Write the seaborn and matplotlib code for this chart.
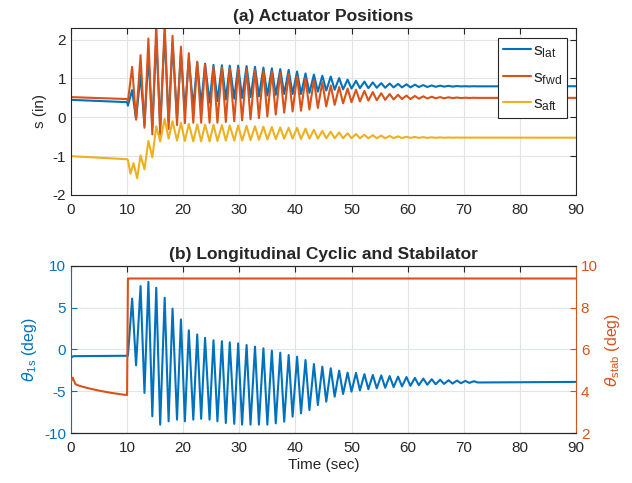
import pandas as pd
import seaborn as sns
import matplotlib.pyplot as plt

blue = "#0072BD"
orange = "#D95319"
yellow = "#EDB120"

# times of the successive peaks/troughs after the input at t=10 s
osc_t = [10.15, 10.9, 11.6, 12.4, 13.1, 13.8, 14.5, 15.2, 15.9, 16.7,
         17.4, 18.1, 18.9, 19.6, 20.3, 21.0, 21.8, 22.5, 23.2, 23.9,
         24.7, 25.4, 26.1, 26.9, 27.6, 28.3, 29.1, 29.8, 30.5, 31.3,
         32.0, 32.8, 33.5, 34.3, 35.0, 35.8, 36.5, 37.3, 38.0, 38.8,
         39.5, 40.3, 41.0, 41.8, 42.5, 43.3, 44.0, 44.8, 45.5, 46.3,
         47.0, 47.8, 48.5, 49.3, 50.0, 50.8, 51.5, 52.3, 53.0, 53.8,
         54.5, 55.3, 56.0, 56.8, 57.5, 58.3, 59.0, 59.8, 60.5, 61.3,
         62.0, 62.8, 63.5, 64.3, 65.0, 65.8, 66.5, 67.3, 68.0, 68.8,
         69.5, 70.3, 71.0, 71.8, 72.5]

# (a) actuator positions, in
lat_pre_t = [0, 10.0]
lat_pre_v = [0.45, 0.39]
lat_osc = [0.3, 0.7, -0.05, 1.1, -0.2, 1.6, -0.25, 2.05, -0.2, 2.15,
           -0.1, 1.9, 0.0, 1.65, 0.15, 1.5, 0.25, 1.42, 0.32, 1.38,
           0.38, 1.35, 0.42, 1.34, 0.46, 1.33, 0.48, 1.33, 0.5, 1.32,
           0.52, 1.3, 0.54, 1.28, 0.56, 1.26, 0.58, 1.24, 0.6, 1.22,
           0.6, 1.18, 0.6, 1.13, 0.63, 1.1, 0.66, 1.07, 0.69, 1.05,
           0.71, 1.01, 0.72, 0.97, 0.74, 0.94, 0.75, 0.92, 0.75, 0.9,
           0.76, 0.88, 0.76, 0.87, 0.77, 0.86, 0.77, 0.85, 0.77, 0.84,
           0.78, 0.83, 0.78, 0.82, 0.785, 0.815, 0.79, 0.81, 0.79, 0.805,
           0.795, 0.8, 0.795, 0.8, 0.797]
lat_end = 0.8

fwd_pre_t = [0, 10.0]
fwd_pre_v = [0.52, 0.47]
fwd_osc = [0.42, 1.3, -0.06, 1.6, -0.27, 2.03, -0.44, 2.4, -0.45, 2.4,
           -0.3, 2.1, -0.2, 1.82, -0.15, 1.65, -0.14, 1.43, -0.14, 1.35,
           -0.14, 1.3, -0.14, 1.28, -0.12, 1.26, -0.1, 1.25, -0.08, 1.24,
           -0.05, 1.22, -0.02, 1.2, 0.02, 1.18, 0.07, 1.15, 0.12, 1.12,
           0.15, 1.06, 0.17, 1.0, 0.2, 0.96, 0.24, 0.9, 0.28, 0.82,
           0.32, 0.78, 0.36, 0.74, 0.39, 0.71, 0.41, 0.68, 0.43, 0.65,
           0.44, 0.62, 0.45, 0.6, 0.46, 0.58, 0.47, 0.56, 0.47, 0.55,
           0.48, 0.54, 0.485, 0.53, 0.49, 0.52, 0.49, 0.515, 0.495, 0.51,
           0.495, 0.505, 0.498, 0.503, 0.5]
fwd_end = 0.5

aft_pre_t = [0, 10.0, 10.15, 10.6, 11.15, 11.8]
aft_pre_v = [-1.0, -1.08, -1.1, -1.45, -1.18, -1.57]
aft_osc = [-0.98, -1.34, -0.61, -1.03, -0.23, -0.62, -0.04,
           -0.55, -0.1, -0.6, -0.14, -0.61, -0.17, -0.62, -0.18, -0.62, -0.19,
           -0.62, -0.19, -0.61, -0.2, -0.6, -0.21, -0.6, -0.21, -0.6, -0.22,
           -0.59, -0.23, -0.58, -0.24, -0.57, -0.25, -0.56, -0.26, -0.55, -0.27,
           -0.55, -0.27, -0.56, -0.29, -0.55, -0.32, -0.55, -0.35, -0.54, -0.37,
           -0.54, -0.39, -0.54, -0.41, -0.54, -0.43, -0.54, -0.45, -0.54, -0.46,
           -0.54, -0.47, -0.54, -0.48, -0.535, -0.49, -0.535, -0.5, -0.53, -0.505,
           -0.53, -0.51, -0.53, -0.515, -0.528, -0.518, -0.526, -0.52, -0.525, -0.521,
           -0.524, -0.522, -0.523, -0.522, -0.523]
aft_end = -0.525

# (b) longitudinal cyclic (deg) and stabilator (deg)
th_pre_t = [0, 0.4, 10.0]
th_pre_v = [-1.0, -0.8, -0.75]
th_osc = [-0.75, 6.1, -1.9, 7.6, -5.2, 8.1, -8.0, 7.4, -9.0, 6.2,
          -8.6, 4.9, -8.4, 3.6, -8.6, 2.3, -8.4, 1.8, -8.3, 1.4,
          -8.4, 1.1, -8.6, 1.0, -8.8, 0.86, -8.9, 0.74, -9.0, 0.54,
          -9.0, 0.34, -9.0, 0.14, -9.0, -0.14, -8.84, -0.38, -8.64, -0.66,
          -8.04, -0.86, -7.65, -1.26, -7.25, -1.74, -6.65, -2.05, -6.25, -2.25,
          -5.65, -2.53, -5.33, -2.77, -5.05, -2.8, -4.9, -2.95, -4.75, -3.05,
          -4.65, -3.1, -4.58, -3.18, -4.5, -3.25, -4.42, -3.3, -4.35, -3.4,
          -4.28, -3.48, -4.22, -3.56, -4.16, -3.62, -4.12, -3.68, -4.08, -3.72,
          -4.04, -3.76, -4.0, -3.8, -3.95]
th_end = -3.88

stab_t = [0, 0.3, 0.8, 1.5, 3, 5, 7, 9, 10.0, 10.15, 90]
stab_v = [4.46, 4.65, 4.34, 4.26, 4.15, 4.03, 3.93, 3.85, 3.82, 9.4, 9.4]

t_lat = lat_pre_t + osc_t + [90]
s_lat = lat_pre_v + lat_osc + [lat_end]
t_fwd = fwd_pre_t + osc_t + [90]
s_fwd = fwd_pre_v + fwd_osc + [fwd_end]
t_aft = aft_pre_t + osc_t[3:] + [90]
s_aft = aft_pre_v + aft_osc + [aft_end]
t_th = th_pre_t + osc_t + [90]
v_th = th_pre_v + th_osc + [th_end]

sns.set_style("white")
plt.rcParams["font.family"] = ["Liberation Sans", "DejaVu Sans"]
plt.rcParams["font.size"] = 11
plt.rcParams["mathtext.fontset"] = "dejavusans"
plt.rcParams["axes.unicode_minus"] = False

fig = plt.figure(figsize=(6.32, 4.83), dpi=100)
ax1 = fig.add_axes([0.1123, 0.5963, 0.799, 0.3458])
ax2 = fig.add_axes([0.1123, 0.1035, 0.799, 0.3458])
ax3 = ax2.twinx()

lw = 1.5
sns.lineplot(x=t_lat, y=s_lat, color=blue, lw=lw, sort=False, estimator=None,
             label=r"$\mathregular{s_{lat}}$", ax=ax1)
sns.lineplot(x=t_fwd, y=s_fwd, color=orange, lw=lw, sort=False, estimator=None,
             label=r"$\mathregular{s_{fwd}}$", ax=ax1)
sns.lineplot(x=t_aft, y=s_aft, color=yellow, lw=lw, sort=False, estimator=None,
             label=r"$\mathregular{s_{aft}}$", ax=ax1)

ax1.set_xlim(0, 90)
ax1.set_ylim(-2, 2.3)
ax1.set_xticks(range(0, 91, 10))
ax1.set_yticks([-2, -1, 0, 1, 2])
ax1.grid(True, color="#e3e3e3", lw=0.8)
ax1.set_axisbelow(True)
ax1.tick_params(direction="in", length=4, top=True, right=True, labelsize=11,
                colors="#262626")
ax1.tick_params(axis="x", pad=6)
for sp in ax1.spines.values():
    sp.set_color("#262626")
    sp.set_linewidth(0.8)
ax1.set_xlabel("")
ax1.set_ylabel("s (in)", fontsize=11, labelpad=4)
ax1.set_title("(a) Actuator Positions", fontsize=12.5, fontweight="bold", pad=5)
leg = ax1.legend(loc="upper right", bbox_to_anchor=(0.99, 0.96), fontsize=12.5,
                 frameon=True, fancybox=False, framealpha=1, edgecolor="#262626",
                 handlelength=1.6, handletextpad=0.15, labelspacing=0.55,
                 borderpad=0.3, borderaxespad=0.2)
leg.get_frame().set_linewidth(0.8)

sns.lineplot(x=t_th, y=v_th, color=blue, lw=lw, sort=False, estimator=None, ax=ax2)
sns.lineplot(x=stab_t, y=stab_v, color=orange, lw=lw, sort=False, estimator=None, ax=ax3)

ax2.set_xlim(0, 90)
ax2.set_ylim(-10, 10)
ax3.set_ylim(2, 10)
ax2.set_xticks(range(0, 91, 10))
ax2.set_yticks([-10, -5, 0, 5, 10])
ax3.set_yticks([2, 4, 6, 8, 10])
ax2.xaxis.grid(True, color="#e3e3e3", lw=0.8)
ax2.yaxis.grid(True, color="#dbe7f3", lw=0.8)
ax2.set_axisbelow(True)
ax2.tick_params(axis="x", direction="in", length=4, top=True, labelsize=11,
                colors="#262626", pad=6)
ax2.tick_params(axis="y", direction="in", length=4, labelsize=11, colors=blue)
ax3.tick_params(axis="y", direction="in", length=4, labelsize=11, colors=orange)
ax2.spines["right"].set_visible(False)
ax3.spines["left"].set_visible(False)
ax2.spines["left"].set_color(blue)
ax3.spines["right"].set_color(orange)
for sp in ["top", "bottom"]:
    ax2.spines[sp].set_color("#262626")
    ax3.spines[sp].set_color("#262626")
for ax in (ax2, ax3):
    for sp in ax.spines.values():
        sp.set_linewidth(0.8)
ax2.set_xlabel("Time (sec)", fontsize=11, color="#262626", labelpad=2)
ax2.set_ylabel(r"$\theta_{\mathregular{1s}}$ (deg)", fontsize=11.5, color=blue, labelpad=4)
ax3.set_ylabel(r"$\theta_{\mathregular{stab}}$ (deg)", fontsize=11.5, color=orange, labelpad=4)
ax2.set_title("(b) Longitudinal Cyclic and Stabilator", fontsize=12.5,
              fontweight="bold", pad=5)

fig.savefig("out.png", dpi=100)
